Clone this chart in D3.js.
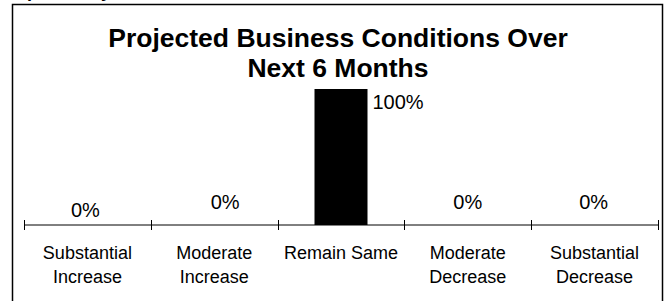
<!DOCTYPE html>
<html>
<head>
<meta charset="utf-8">
<script src="https://cdn.jsdelivr.net/npm/d3@7"></script>
<style>
  body { margin: 0; background: #fff; }
  svg { display: block; font-family: "Liberation Sans", Arial, sans-serif; }
</style>
</head>
<body>
<svg id="chart"></svg>
<script>
// chart data
const categories = [
    ["Substantial", "Increase"],
    ["Moderate", "Increase"],
    ["Remain Same"],
    ["Moderate", "Decrease"],
    ["Substantial", "Decrease"]
];
const shares = [0, 0, 1, 0, 0];
const valueLabels = ["0%", "0%", "100%", "0%", "0%"];
const titleLines = ["Projected Business Conditions Over", "Next 6 Months"];

const width = 667,
    height = 301

const svg = d3.select("#chart")
    .attr("width", width)
    .attr("height", height)

// cut off heading from the page above
svg.append("text")
    .attr("x", 5)
    .attr("y", -3)
    .style("font-size", "18px")
    .style("font-weight", "bold")
    .text("Expected by")

// chart frame (bottom edge is below the window)
svg.append("rect")
    .attr("x", 12.5)
    .attr("y", 4.5)
    .attr("width", 650)
    .attr("height", 310)
    .attr("fill", "none")
    .attr("stroke", "#000")
    .attr("stroke-width", 1.5)

const x = d3.scaleBand()
    .domain(d3.range(categories.length))
    .range([24, 658])
    .paddingInner(0)
    .paddingOuter(0)

const y = d3.scaleLinear()
    .domain([0, 1])
    .range([225, 89])

// title
svg.append("g")
    .selectAll("text")
    .data(titleLines)
    .enter()
    .append("text")
    .attr("x", 338)
    .attr("y", function (d, i) { return 47 + i * 30; })
    .attr("text-anchor", "middle")
    .style("font-size", "26.5px")
    .style("font-weight", "bold")
    .text(function (d) { return d; })

// bars
const barWidth = 53
svg.append("g")
    .selectAll("rect")
    .data(shares)
    .enter()
    .append("rect")
    .attr("x", function (d, i) { return x(i) + x.bandwidth() / 2 - barWidth / 2; })
    .attr("y", function (d) { return y(d); })
    .attr("width", barWidth)
    .attr("height", function (d) { return y(0) - y(d); })
    .attr("fill", "#000")

// axis line with cross ticks at the category boundaries
const axis = svg.append("g")
axis.append("line")
    .attr("x1", x.range()[0])
    .attr("x2", x.range()[1])
    .attr("y1", y(0))
    .attr("y2", y(0))
    .attr("stroke", "#000")
    .attr("stroke-width", 1)

const bounds = d3.range(categories.length + 1).map(function (i) {
    return i < categories.length ? x(i) : x.range()[1];
});
axis.selectAll(".tick")
    .data(bounds)
    .enter()
    .append("line")
    .attr("class", "tick")
    .attr("x1", function (d) { return Math.round(d) + 0.5; })
    .attr("x2", function (d) { return Math.round(d) + 0.5; })
    .attr("y1", y(0) - 5)
    .attr("y2", y(0) + 5)
    .attr("stroke", "#000")

// category labels
const catGroups = svg.append("g")
    .selectAll("text")
    .data(categories)
    .enter()
    .append("text")
    .attr("text-anchor", "middle")
    .style("font-size", "18px")
catGroups.selectAll("tspan")
    .data(function (d, i) { return d.map(function (t) { return {t: t, i: i}; }); })
    .enter()
    .append("tspan")
    .attr("x", function (d) { return x(d.i) + x.bandwidth() / 2; })
    .attr("y", function (d, j) { return y(0) + 34 + j * 24; })
    .text(function (d) { return d.t; })

// value labels (zero bars sit above the axis, the full bar gets its label at the right of its top)
const zeroNudge = [[-2, -8], [11, -16], [0, 0], [0, -16], [-1, -16]]
svg.append("g")
    .selectAll("text")
    .data(shares)
    .enter()
    .append("text")
    .attr("x", function (d, i) {
        if (d > 0) return x(i) + x.bandwidth() / 2 + barWidth / 2 + 5;
        return x(i) + x.bandwidth() / 2 + zeroNudge[i][0];
    })
    .attr("y", function (d, i) {
        if (d > 0) return y(d) + 20;
        return y(0) + zeroNudge[i][1];
    })
    .attr("text-anchor", function (d) { return d > 0 ? "start" : "middle"; })
    .style("font-size", "20px")
    .text(function (d, i) { return valueLabels[i]; })
</script>
</body>
</html>
